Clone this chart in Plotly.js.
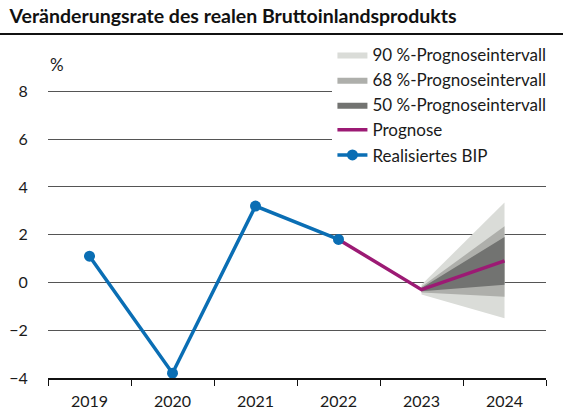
<!DOCTYPE html>
<html><head><meta charset="utf-8">
<script src="https://cdn.plot.ly/plotly-3.0.1.min.js"></script>
<style>html,body{margin:0;padding:0;background:#fff}#c{width:563px;height:410px}</style>
</head><body><div id="c"></div>
<script>
const years = ["2019","2020","2021","2022","2023","2024"];
const realYears = ["2019","2020","2021","2022"];
const realValues = [1.1, -3.8, 3.2, 1.8];
const progYears = ["2022","2023","2024"];
const progValues = [1.8, -0.3, 0.9];
const fanYears = ["2023","2024"];
const p90Low = [-0.5, -1.5], p90High = [-0.1, 3.35];
const p68Low = [-0.42, -0.6], p68High = [-0.18, 2.35];
const p50Low = [-0.37, -0.1], p50High = [-0.23, 1.9];
const yTicks = [-4, -2, 0, 2, 4, 6, 8];

function band(lo, hi, name, color) {
  return {
    x: fanYears.concat(fanYears.slice().reverse()),
    y: lo.concat(hi.slice().reverse()),
    type: "scatter", mode: "lines", fill: "toself",
    fillcolor: color, line: {width: 0, color: color},
    name: name, hoverinfo: "skip"
  };
}

const traces = [
  band(p90Low, p90High, "90 %-Prognoseintervall", "#dadcd8"),
  band(p68Low, p68High, "68 %-Prognoseintervall", "#aeafab"),
  band(p50Low, p50High, "50 %-Prognoseintervall", "#727371"),
  {x: progYears, y: progValues, type: "scatter", mode: "lines", name: "Prognose",
   line: {color: "#9c1a74", width: 3.5}},
  {x: realYears, y: realValues, type: "scatter", mode: "lines+markers", name: "Realisiertes BIP",
   line: {color: "#0a6eb4", width: 3.5}, marker: {color: "#0a6eb4", size: 11}}
];

const font = "Lato, 'Open Sans', sans-serif";
const layout = {
  width: 563, height: 410,
  margin: {l: 48, r: 16, t: 89, b: 32},
  paper_bgcolor: "#fff", plot_bgcolor: "#fff",
  font: {family: font, size: 16, color: "#1a1a1a"},
  showlegend: true,
  legend: {x: 0.57, y: 1.18, xanchor: "left", yanchor: "top", bgcolor: "#fff",
           font: {family: font, size: 17, color: "#1a1a1a"}, traceorder: "normal",
           tracegroupgap: 0},
  title: {text: "Veränderungsrate des realen Bruttoinlandsprodukts",
          x: 0.017, xanchor: "left", y: 0.977, yanchor: "top",
          font: {family: font, size: 19.5, color: "#111", weight: 700}},
  xaxis: {type: "category", categoryarray: years, categoryorder: "array",
          range: [-0.5, 5.5], tickson: "boundaries", ticks: "outside", ticklen: 6,
          tickcolor: "#111", showline: true, linecolor: "#111", linewidth: 1.5,
          showgrid: false, zeroline: false, fixedrange: true, ticklabelstandoff: 8,
          tickfont: {family: font, size: 16, color: "#1a1a1a"}},
  yaxis: {range: [-4, 8.1], tickvals: yTicks, ticktext: yTicks.map(v => v < 0 ? "\u2212" + Math.abs(v) : String(v)),
          ticks: "outside", ticklen: 16, tickcolor: "rgba(0,0,0,0)",
          showgrid: true, gridcolor: "#555", gridwidth: 1, zeroline: false,
          showline: false, fixedrange: true,
          tickfont: {family: font, size: 16, color: "#1a1a1a"}},
  shapes: [{type: "line", xref: "paper", yref: "paper", x0: -0.1, x1: 1.04,
            y0: 1.19, y1: 1.19, line: {color: "#111", width: 2}}],
  annotations: [{text: "%", xref: "paper", yref: "paper", x: 0.0, y: 1.04,
                 xanchor: "left", yanchor: "bottom", showarrow: false,
                 font: {family: font, size: 17, color: "#1a1a1a"}}]
};

Plotly.newPlot("c", traces, layout, {staticPlot: true, displayModeBar: false});
</script></body></html>
